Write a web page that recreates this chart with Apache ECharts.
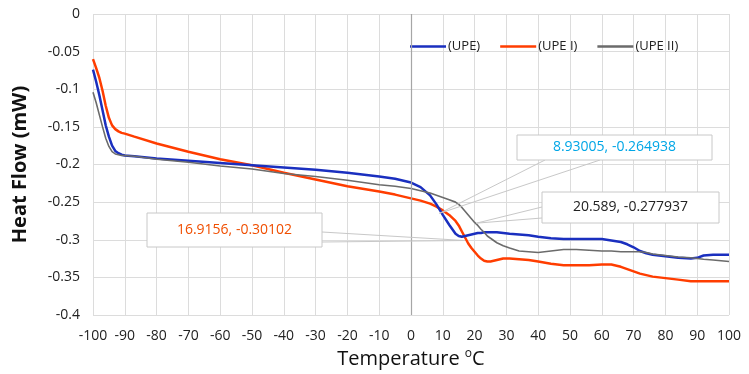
<!DOCTYPE html>
<html>
<head>
<meta charset="utf-8">
<script src="https://cdn.jsdelivr.net/npm/echarts@6/dist/echarts.min.js"></script>
<style>
  html, body { margin: 0; padding: 0; background: #fff; }
  #chart { width: 749px; height: 374px; }
</style>
</head>
<body>
<div id="chart"></div>
<script>
// temperature samples (°C) shared by all three curves
const temps = [-100,-99,-98,-97,-96,-95,-94,-93,-92,-91,-90,-87,-80,-70,-60,-50,-40,-30,-20,-10,-5,0,3,6,8,10,12,14,15,16,17,18,19,20,21,22,23,24,25,27,29,31,34,37,40,44,48,52,56,60,63,66,68,70,72,74,76,80,84,88,90,92,95,100];

const upe = [-0.074,-0.090,-0.108,-0.128,-0.148,-0.163,-0.175,-0.182,-0.185,-0.187,-0.188,-0.189,-0.192,-0.195,-0.198,-0.201,-0.204,-0.207,-0.211,-0.216,-0.219,-0.224,-0.230,-0.241,-0.253,-0.267,-0.280,-0.292,-0.295,-0.296,-0.295,-0.294,-0.293,-0.292,-0.291,-0.291,-0.290,-0.290,-0.290,-0.290,-0.291,-0.292,-0.293,-0.294,-0.296,-0.298,-0.299,-0.299,-0.299,-0.299,-0.301,-0.303,-0.306,-0.310,-0.315,-0.318,-0.320,-0.322,-0.324,-0.325,-0.324,-0.321,-0.320,-0.320];

const upeI = [-0.060,-0.072,-0.085,-0.102,-0.122,-0.138,-0.148,-0.153,-0.156,-0.158,-0.159,-0.163,-0.172,-0.183,-0.193,-0.201,-0.211,-0.220,-0.229,-0.236,-0.240,-0.245,-0.248,-0.252,-0.256,-0.261,-0.267,-0.275,-0.281,-0.289,-0.297,-0.305,-0.311,-0.316,-0.321,-0.325,-0.328,-0.329,-0.329,-0.327,-0.325,-0.325,-0.326,-0.327,-0.329,-0.332,-0.334,-0.334,-0.334,-0.333,-0.333,-0.336,-0.339,-0.342,-0.345,-0.347,-0.349,-0.351,-0.353,-0.355,-0.355,-0.355,-0.355,-0.355];

const upeII = [-0.104,-0.118,-0.134,-0.150,-0.165,-0.176,-0.183,-0.186,-0.187,-0.188,-0.188,-0.189,-0.193,-0.197,-0.202,-0.206,-0.212,-0.216,-0.221,-0.227,-0.229,-0.232,-0.235,-0.238,-0.241,-0.244,-0.247,-0.250,-0.253,-0.257,-0.262,-0.267,-0.272,-0.277,-0.281,-0.286,-0.290,-0.295,-0.298,-0.304,-0.308,-0.311,-0.315,-0.316,-0.317,-0.315,-0.313,-0.313,-0.314,-0.315,-0.315,-0.316,-0.316,-0.316,-0.316,-0.317,-0.319,-0.321,-0.323,-0.324,-0.325,-0.326,-0.327,-0.329];

// data-point callouts
const calloutX = [8.93005, 20.589, 16.9156];
const calloutY = [-0.264938, -0.277937, -0.30102];
const calloutColor = ['#00a6e6', '#222222', '#f04e00'];

const pair = (ys) => temps.map((t, i) => [t, ys[i]]);

const chart = echarts.init(document.getElementById('chart'));
const font = 'Open Sans';

chart.setOption({
  animation: false,
  backgroundColor: '#fff',
  textStyle: { fontFamily: font },
  grid: { left: 93, right: 20, top: 14, bottom: 56 },
  legend: {
    left: 405, top: 35,
    icon: 'path://M0,0H40V3H0Z',
    itemWidth: 36, itemHeight: 3, itemGap: 20,
    textStyle: { fontSize: 13, color: '#222', fontFamily: font, padding: [0, 0, 0, -3] },
    data: ['(UPE)', '(UPE I)', '(UPE II)']
  },
  xAxis: {
    type: 'value', min: -100, max: 100, interval: 10,
    name: 'Temperature {s|o}C', nameLocation: 'middle', nameGap: 33,
    nameTextStyle: {
      fontSize: 20, color: '#111', fontFamily: font,
      rich: { s: { fontSize: 12, verticalAlign: 'top', padding: [0, 0, 10, 0], color: '#111' } }
    },
    axisLine: { show: false }, axisTick: { show: false },
    axisLabel: { fontSize: 14, color: '#222', margin: 14 },
    splitLine: { lineStyle: { color: '#dcdcdc' } }
  },
  yAxis: {
    type: 'value', min: -0.4, max: 0, interval: 0.05,
    name: 'Heat Flow (mW)', nameLocation: 'middle', nameGap: 63,
    nameTextStyle: { fontSize: 20, color: '#111', fontWeight: 'bold', fontFamily: font },
    axisLine: { show: false }, axisTick: { show: false },
    axisLabel: { fontSize: 14, color: '#222', margin: 13 },
    splitLine: { lineStyle: { color: '#dcdcdc' } }
  },
  series: [
    {
      name: '(UPE)', type: 'line', data: pair(upe), symbol: 'none',
      lineStyle: { color: '#1a2fbf', width: 2.5 }, itemStyle: { color: '#1a2fbf' }, z: 3,
      markLine: {
        silent: true, symbol: 'none', label: { show: false },
        lineStyle: { color: '#a6a6a6', width: 1.2, type: 'solid' },
        data: [{ xAxis: 0 }]
      }
    },
    {
      name: '(UPE I)', type: 'line', data: pair(upeI), symbol: 'none',
      lineStyle: { color: '#ff3d00', width: 2.5 }, itemStyle: { color: '#ff3d00' }, z: 2
    },
    {
      name: '(UPE II)', type: 'line', data: pair(upeII), symbol: 'none',
      lineStyle: { color: '#6b6b6b', width: 1.6 }, itemStyle: { color: '#6b6b6b' }, z: 4
    }
  ]
});

// callout boxes: [x, y, w, h], plus the two points on the box edge where the leader starts
const boxes = [
  { r: [517, 135, 195, 25], a: [545, 160], b: [600, 160] },
  { r: [542, 192, 177, 31], a: [542, 207], b: [542, 218] },
  { r: [147, 213, 175, 34], a: [322, 232], b: [322, 242] }
];

const els = [];
boxes.forEach((bx, i) => {
  const p = chart.convertToPixel({ gridIndex: 0 }, [calloutX[i], calloutY[i]]);
  const [x, y, w, h] = bx.r;
  els.push({ type: 'line', z: 10, silent: true,
    shape: { x1: bx.a[0], y1: bx.a[1], x2: p[0], y2: p[1] },
    style: { stroke: '#c8c8c8', lineWidth: 1 } });
  els.push({ type: 'line', z: 10, silent: true,
    shape: { x1: bx.b[0], y1: bx.b[1], x2: p[0], y2: p[1] },
    style: { stroke: '#c8c8c8', lineWidth: 1 } });
  els.push({ type: 'rect', z: 11, silent: true,
    shape: { x: x, y: y, width: w, height: h },
    style: { fill: '#fff', stroke: '#c8c8c8', lineWidth: 1 } });
  els.push({ type: 'text', z: 12, silent: true,
    x: x + w / 2, y: y + h / 2,
    style: { text: calloutX[i] + ', ' + calloutY[i], fill: calloutColor[i],
      font: '14px "' + font + '"', align: 'center', verticalAlign: 'middle' } });
});
chart.setOption({ graphic: els });
</script>
</body>
</html>
